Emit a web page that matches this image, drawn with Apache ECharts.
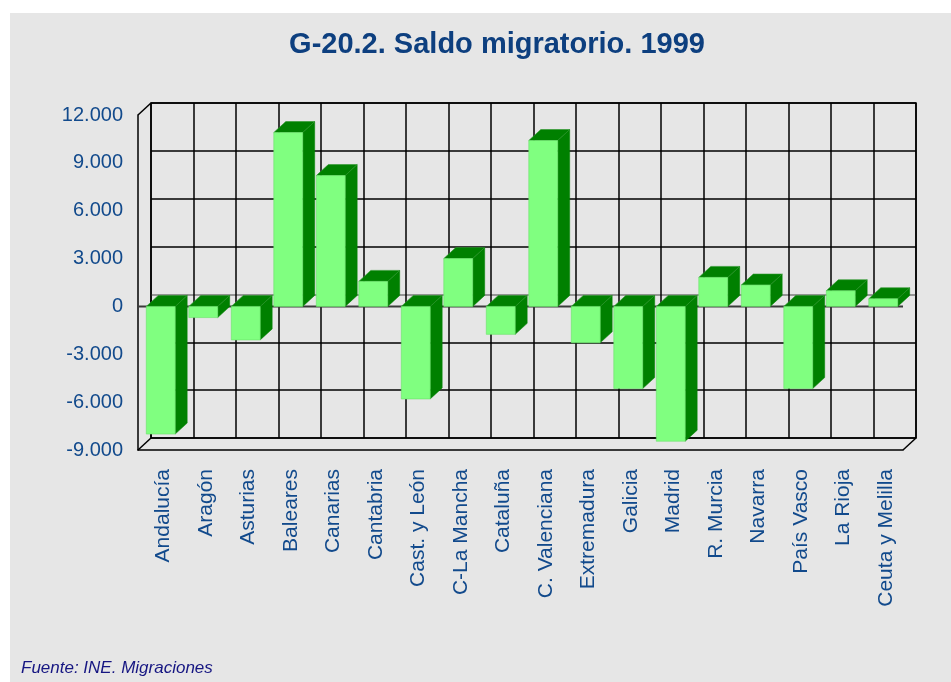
<!DOCTYPE html>
<html>
<head>
<meta charset="utf-8">
<script src="https://cdn.jsdelivr.net/npm/echarts@6/dist/echarts.min.js"></script>
<style>
html,body{margin:0;padding:0;background:#ffffff;}
#c{width:951px;height:682px;}
</style>
</head>
<body>
<div id="c"></div>
<script>
// ---- data ----
const categories = ['Andalucía','Aragón','Asturias','Baleares','Canarias','Cantabria','Cast. y León','C-La Mancha','Cataluña','C. Valenciana','Extremadura','Galicia','Madrid','R. Murcia','Navarra','País Vasco','La Rioja','Ceuta y Melilla'];
const saldo = [-8000,-700,-2100,10900,8200,1570,-5800,3000,-1750,10400,-2280,-5150,-8450,1820,1340,-5150,980,480];
const yMin = -9000, yMax = 12000, yStep = 3000;
const yTickLabels = ['-9.000','-6.000','-3.000','0','3.000','6.000','9.000','12.000'];
const titleText = 'G-20.2. Saldo migratorio. 1999';
const sourceText = 'Fuente: INE. Migraciones';

// ---- layout / style ----
const FRONT = {left:138, top:115, width:765, height:335};
const DX = 13, DY = -12;     // wall depth offset
const BDX = 12, BDY = -11;   // bar depth offset
const font = '"Liberation Sans", Arial, Helvetica, sans-serif';
const labelColor = '#124a8c';

const chart = echarts.init(document.getElementById('c'), null, {renderer:'canvas'});

const option = {
  backgroundColor: '#ffffff',
  animation: false,
  graphic: [
    {type:'rect', z:-100, silent:true, shape:{x:10, y:13, width:941, height:669}, style:{fill:'#e6e6e6'}},
    {type:'text', z:10, x:497, y:45, style:{text:titleText, fill:'#0d3f7f', font:'bold 29px ' + font, align:'center', verticalAlign:'middle'}},
    {type:'text', z:10, x:21, y:668, style:{text:sourceText, fill:'#161682', font:'italic 17px ' + font, align:'left', verticalAlign:'middle'}}
  ],
  grid: [
    {left:FRONT.left + DX, top:FRONT.top + DY, width:FRONT.width, height:FRONT.height, show:true, borderColor:'#000', borderWidth:1.5, backgroundColor:'transparent', outerBoundsMode:'none', containLabel:false},
    {left:FRONT.left, top:FRONT.top, width:FRONT.width, height:FRONT.height, outerBoundsMode:'none', containLabel:false},
    {left:FRONT.left + 4, top:FRONT.top, width:FRONT.width, height:FRONT.height, outerBoundsMode:'none', containLabel:false}
  ],
  xAxis: [
    {gridIndex:0, type:'category', data:categories, boundaryGap:true,
     axisLine:{show:false}, axisTick:{show:false}, axisLabel:{show:false},
     splitLine:{show:true, interval:0, lineStyle:{color:'#000', width:1.5}}},
    {gridIndex:1, type:'category', data:categories, boundaryGap:true,
     axisLine:{show:true, onZero:false, lineStyle:{color:'#000', width:1.5}},
     axisTick:{show:false}, axisLabel:{show:false}, splitLine:{show:false}},
    {gridIndex:2, type:'category', data:categories, boundaryGap:true,
     axisLine:{show:false}, axisTick:{show:false}, splitLine:{show:false},
     axisLabel:{show:true, interval:0, rotate:90, margin:19, fontSize:21, fontFamily:font, color:labelColor}}
  ],
  yAxis: [
    {gridIndex:0, type:'value', min:yMin, max:yMax, interval:yStep,
     axisLine:{show:false}, axisTick:{show:false}, axisLabel:{show:false},
     splitLine:{show:true, lineStyle:{color:['#000','#000','#000','#7a7a7a','#000','#000','#000','#000'], width:1.5}}},
    {gridIndex:1, type:'value', min:yMin, max:yMax, interval:yStep,
     axisLine:{show:true, lineStyle:{color:'#000', width:1.5}}, axisTick:{show:false}, splitLine:{show:false},
     axisLabel:{margin:15, fontSize:20, fontFamily:font, color:labelColor,
       formatter:(v) => yTickLabels[Math.round((v - yMin) / yStep)]}},
    {gridIndex:2, type:'value', min:yMin, max:yMax, show:false}
  ],
  series: [
    {
      type:'custom', name:'frame', xAxisIndex:1, yAxisIndex:1, z:3, silent:true,
      data:[[0,0]],
      renderItem(params, api) {
        const cs = params.coordSys;
        const L = cs.x, R = cs.x + cs.width, T = cs.y, B = cs.y + cs.height;
        const y0 = api.coord([0, 0])[1];
        const st = {stroke:'#000', lineWidth:1.5};
        const seg = (x1,y1,x2,y2,s) => ({type:'line', shape:{x1,y1,x2,y2}, style:s || st});
        return {type:'group', children:[
          seg(L, T, L + DX, T + DY),
          seg(L, B, L + DX, B + DY),
          seg(R, B, R + DX, B + DY),
          seg(L, y0, R, y0, {stroke:'#3a3a3a', lineWidth:2})
        ]};
      }
    },
    {
      type:'custom', name:'Saldo migratorio', xAxisIndex:1, yAxisIndex:1, z:5,
      data: saldo.map((v, i) => [i, v]),
      renderItem(params, api) {
        const i = api.value(0), v = api.value(1);
        const base = api.coord([i, 0]);
        const tip = api.coord([i, v]);
        const band = api.size([1, 0])[0];
        const w = band * 0.68;
        const cx = base[0] + band * 0.035;
        const xl = cx - w / 2, xr = cx + w / 2;
        const yt = Math.min(base[1], tip[1]);
        const yb = Math.max(base[1], tip[1]);
        return {type:'group', children:[
          {type:'polygon', shape:{points:[[xr,yt],[xr+BDX,yt+BDY],[xr+BDX,yb+BDY],[xr,yb]]},
           style:{fill:'#008000', stroke:'#008000', lineWidth:0.5}},
          {type:'polygon', shape:{points:[[xl,yt],[xl+BDX,yt+BDY],[xr+BDX,yt+BDY],[xr,yt]]},
           style:{fill:'#008000', stroke:'#2a952a', lineWidth:0.6}},
          {type:'rect', shape:{x:xl, y:yt, width:w, height:yb - yt},
           style:{fill:'#80ff80', stroke:'#6ae06a', lineWidth:0.6}}
        ]};
      }
    }
  ]
};
chart.setOption(option);
</script>
</body>
</html>
